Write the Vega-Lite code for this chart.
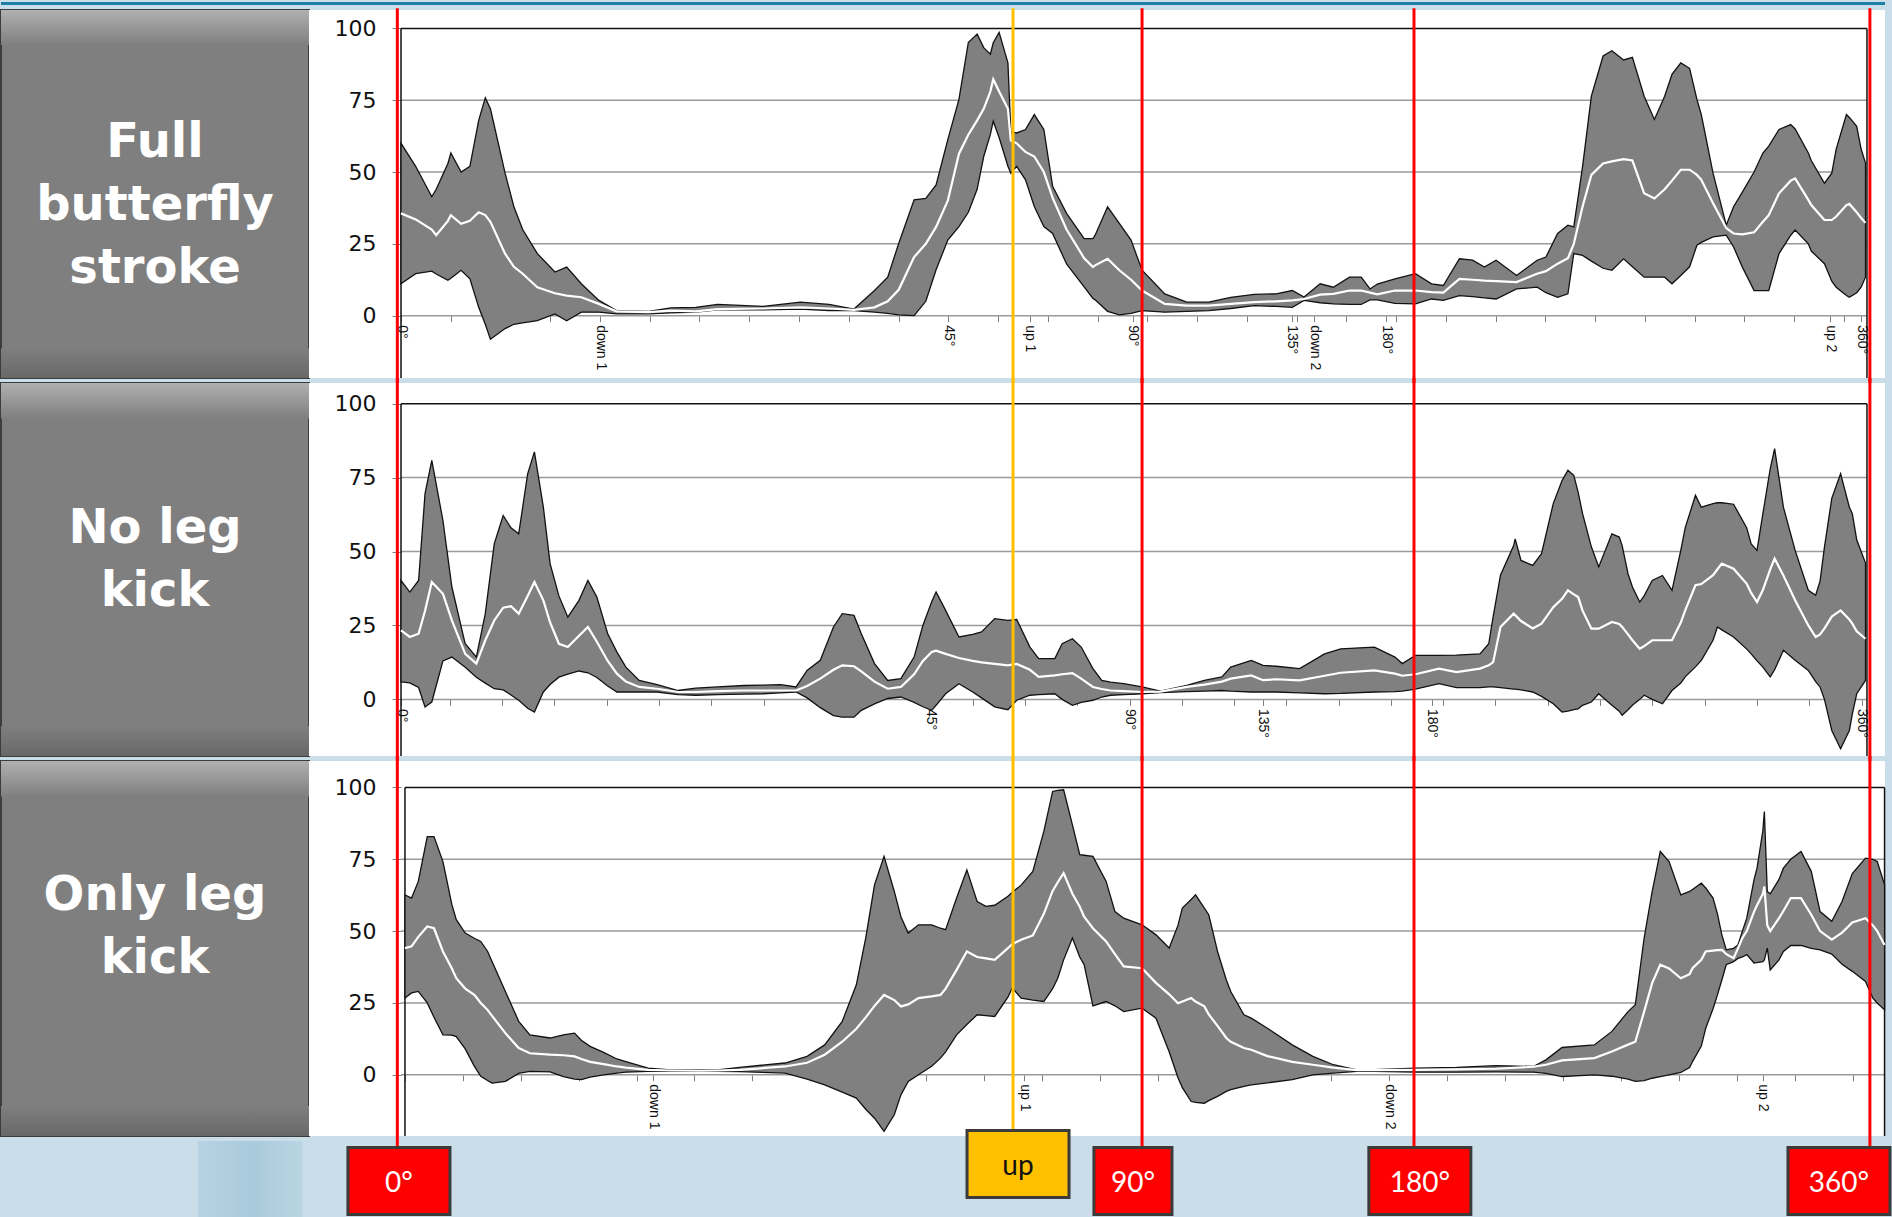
{
  "$schema": "https://vega.github.io/schema/vega-lite/v6.json",
  "padding": 0,
  "background": "#c9dee9",
  "columns": 2,
  "spacing": {"row": 5, "column": 0},
  "align": "each",
  "bounds": "flush",
  "config": {
    "view": {"stroke": null},
    "axis": {"grid": false, "domain": false, "tickColor": "#808080", "labelColor": "#111111"}
  },
  "datasets": {
    "markers": [
      {"pos": -0.25, "kind": "angle", "level": 0}, {"pos": 41.75, "kind": "up", "level": 1}, {"pos": 50.55, "kind": "angle", "level": 0},
      {"pos": 69.1, "kind": "angle", "level": 0}, {"pos": 100.2, "kind": "angle", "level": 0}
    ],
    "boxes": [
      {"label": "0°", "pos": -0.14, "kind": "angle", "level": 0},
      {"label": "up", "pos": 42.09, "kind": "up", "level": 1},
      {"label": "90°", "pos": 49.93, "kind": "angle", "level": 0},
      {"label": "180°", "pos": 69.5, "kind": "angle", "level": 0},
      {"label": "360°", "pos": 98.09, "kind": "angle", "level": 0}
    ],
    "p1": [
      {"x":0,"lo":11.1,"m":35.6,"hi":60},{"x":1.0,"lo":14.6,"m":33.5,"hi":52},{"x":2.1,"lo":15.5,"m":30,"hi":41.4},
      {"x":2.4,"lo":14.5,"m":28,"hi":44},{"x":3.2,"lo":12.3,"m":33,"hi":53},{"x":3.4,"lo":13,"m":35,"hi":56.6},
      {"x":4.1,"lo":15.8,"m":32,"hi":50},{"x":4.7,"lo":12.8,"m":33,"hi":52},{"x":5.3,"lo":2.9,"m":36,"hi":68},
      {"x":5.75,"lo":-3,"m":35,"hi":75.8},{"x":6.1,"lo":-8.2,"m":32.7,"hi":72},{"x":7.1,"lo":-4.5,"m":21.6,"hi":49.6},
      {"x":7.7,"lo":-3,"m":17,"hi":37.9},{"x":8.3,"lo":-2.5,"m":14.6,"hi":30},{"x":9.3,"lo":-1.75,"m":9.9,"hi":21.6},
      {"x":10.5,"lo":0.6,"m":7.8,"hi":15.2},{"x":11.3,"lo":-1.75,"m":7,"hi":16.9},{"x":12.3,"lo":1.2,"m":6.4,"hi":11.1},
      {"x":13.5,"lo":1.2,"m":4.1,"hi":5.3},{"x":14.7,"lo":0.6,"m":1.5,"hi":1.75},{"x":16.9,"lo":0.6,"m":1.2,"hi":1.5},
      {"x":18.4,"lo":1,"m":1.75,"hi":2.7},{"x":20.1,"lo":1.2,"m":1.5,"hi":2.9},{"x":21.6,"lo":2,"m":2.3,"hi":3.9},
      {"x":24.7,"lo":2,"m":2.5,"hi":3.2},{"x":27.25,"lo":2.3,"m":2.9,"hi":4.7},{"x":29.2,"lo":1.75,"m":2.5,"hi":3.9},
      {"x":30.9,"lo":1.75,"m":2,"hi":2.3},{"x":32.3,"lo":1.2,"m":2.9,"hi":8.75},{"x":33.2,"lo":0.8,"m":5,"hi":13.4},
      {"x":33.95,"lo":0.3,"m":9,"hi":25.1},{"x":35.0,"lo":0,"m":20.4,"hi":40.3},{"x":35.8,"lo":5,"m":25,"hi":40.8},
      {"x":36.5,"lo":16,"m":30.9,"hi":45.5},{"x":37.3,"lo":26.3,"m":40,"hi":61.3},{"x":38.06,"lo":31,"m":56.4,"hi":75.3},
      {"x":38.7,"lo":36,"m":63,"hi":95.1},{"x":39.3,"lo":44,"m":68,"hi":98},{"x":39.75,"lo":55.4,"m":72,"hi":93.3},
      {"x":40.2,"lo":63,"m":78,"hi":91},{"x":40.4,"lo":67.7,"m":82.3,"hi":95},{"x":40.8,"lo":62,"m":78,"hi":98.6},
      {"x":41.4,"lo":52,"m":72,"hi":88},{"x":41.6,"lo":49.6,"m":61,"hi":64},{"x":42.0,"lo":52,"m":60,"hi":63.6},
      {"x":42.6,"lo":47.3,"m":57,"hi":64.8},{"x":43.2,"lo":38,"m":55.4,"hi":70},{"x":43.85,"lo":31,"m":50,"hi":64.8},
      {"x":44.45,"lo":28.6,"m":41,"hi":45},{"x":45.4,"lo":18,"m":30,"hi":35.6},{"x":46.6,"lo":10,"m":20,"hi":26.8},
      {"x":47.2,"lo":6,"m":16.9,"hi":26.8},{"x":47.35,"lo":5.5,"m":17.5,"hi":28},{"x":48.2,"lo":1.5,"m":19.8,"hi":37.9},
      {"x":49.0,"lo":0.3,"m":15.8,"hi":32.1},{"x":49.8,"lo":0.8,"m":12.5,"hi":26.3},{"x":50.55,"lo":1.75,"m":8.75,"hi":15.8},
      {"x":52.1,"lo":1.2,"m":4.1,"hi":7.6},{"x":53.6,"lo":1.5,"m":3.5,"hi":4.7},{"x":55.1,"lo":1.75,"m":3.5,"hi":4.7},
      {"x":56.6,"lo":2.5,"m":4.1,"hi":6.4},{"x":58.2,"lo":3.5,"m":4.7,"hi":7.4},{"x":59.7,"lo":3.2,"m":5,"hi":7.6},
      {"x":60.8,"lo":2.9,"m":5.3,"hi":8.75},{"x":61.6,"lo":5.3,"m":5.8,"hi":6.5},{"x":62.7,"lo":4.5,"m":7.3,"hi":11.1},
      {"x":63.6,"lo":4.1,"m":7.6,"hi":9.9},{"x":64.7,"lo":3.9,"m":8.75,"hi":13.4},{"x":65.5,"lo":3.9,"m":8.75,"hi":13.4},
      {"x":66.1,"lo":5.5,"m":8,"hi":9.3},{"x":66.6,"lo":5.5,"m":7.4,"hi":11},{"x":67.8,"lo":4.3,"m":8.75,"hi":12.8},
      {"x":69.2,"lo":4.1,"m":8.75,"hi":14.6},{"x":70.3,"lo":5.8,"m":8.2,"hi":11.1},{"x":71.1,"lo":5.3,"m":8,"hi":10.5},
      {"x":72.2,"lo":7,"m":12.8,"hi":19.8},{"x":73.1,"lo":6.6,"m":12.5,"hi":19.3},{"x":73.9,"lo":6.2,"m":12.2,"hi":16.9},
      {"x":74.7,"lo":5.8,"m":12,"hi":19.3},{"x":76.1,"lo":9.3,"m":11.7,"hi":14},{"x":77.5,"lo":9.9,"m":14.6,"hi":19.3},
      {"x":78.1,"lo":8,"m":15.5,"hi":20.4},{"x":78.9,"lo":6.4,"m":18.1,"hi":28.6},{"x":79.6,"lo":7.6,"m":20,"hi":31.5},
      {"x":80.0,"lo":21.6,"m":25,"hi":30.9},{"x":80.6,"lo":21,"m":38,"hi":51.9},{"x":81.2,"lo":19,"m":49,"hi":76.4},
      {"x":82.0,"lo":16.5,"m":53,"hi":90.4},{"x":82.6,"lo":15.8,"m":53.7,"hi":92.2},{"x":83.4,"lo":19.8,"m":54.5,"hi":89},
      {"x":84.0,"lo":17,"m":54,"hi":89.9},{"x":84.8,"lo":13.4,"m":42.6,"hi":76.4},{"x":85.5,"lo":13.4,"m":40.8,"hi":68.3},
      {"x":86.2,"lo":13.4,"m":44,"hi":76.4},{"x":86.7,"lo":11.1,"m":47,"hi":84},{"x":87.3,"lo":14,"m":50.8,"hi":88},
      {"x":87.9,"lo":17,"m":50.8,"hi":86.1},{"x":88.4,"lo":24.5,"m":49,"hi":75.3},{"x":88.7,"lo":25.5,"m":47.3,"hi":70},
      {"x":89.5,"lo":27.4,"m":39.1,"hi":49.6},{"x":90.4,"lo":28,"m":30.5,"hi":31.5},{"x":90.9,"lo":23.9,"m":28.6,"hi":37.9},
      {"x":91.5,"lo":16.9,"m":28.3,"hi":43},{"x":92.3,"lo":8.75,"m":29,"hi":50},{"x":92.9,"lo":8.75,"m":32.7,"hi":56.6},
      {"x":93.3,"lo":8.75,"m":35,"hi":59},{"x":94.0,"lo":21.6,"m":42.6,"hi":64.8},{"x":94.8,"lo":28,"m":47,"hi":66.5},
      {"x":95.1,"lo":29.8,"m":47.8,"hi":65},{"x":96.0,"lo":25,"m":40.3,"hi":56.6},{"x":96.2,"lo":22.5,"m":38.5,"hi":54},
      {"x":97.1,"lo":18.1,"m":33.3,"hi":46.1},{"x":97.6,"lo":12,"m":33.3,"hi":49.6},{"x":97.9,"lo":9.9,"m":34.5,"hi":58},
      {"x":98.6,"lo":7,"m":38.5,"hi":70},{"x":98.8,"lo":6.4,"m":38.9,"hi":69},{"x":99.3,"lo":8,"m":36,"hi":65.9},
      {"x":99.6,"lo":9.9,"m":34,"hi":58},{"x":99.9,"lo":13.4,"m":32.3,"hi":53.1}
    ],
    "p2": [
      {"x":0,"lo":5.9,"m":23.3,"hi":40.2},{"x":0.6,"lo":5.6,"m":21.1,"hi":36.3},{"x":1.2,"lo":4,"m":22.2,"hi":40.2},
      {"x":1.64,"lo":-2.6,"m":30,"hi":69.6},{"x":2.1,"lo":-0.9,"m":39.7,"hi":80.8},{"x":2.86,"lo":13,"m":35.7,"hi":60.5},
      {"x":3.47,"lo":14.3,"m":26.7,"hi":38},{"x":4.38,"lo":10.9,"m":15.4,"hi":18.8},{"x":5.14,"lo":7.5,"m":12.1,"hi":14.3},
      {"x":5.75,"lo":5.5,"m":20,"hi":29},{"x":6.36,"lo":3.6,"m":26.7,"hi":52.6},{"x":6.97,"lo":3.2,"m":31,"hi":62.2},
      {"x":7.5,"lo":1.5,"m":31.5,"hi":58},{"x":8.03,"lo":-0.3,"m":29,"hi":56},{"x":8.64,"lo":-3,"m":35,"hi":76.3},
      {"x":9.1,"lo":-4.3,"m":39.7,"hi":83.7},{"x":9.71,"lo":2.5,"m":33.5,"hi":65},{"x":10.17,"lo":5,"m":26,"hi":45.9},
      {"x":10.77,"lo":7.5,"m":18.8,"hi":35},{"x":11.38,"lo":8.5,"m":17.7,"hi":27.8},{"x":12.14,"lo":9.6,"m":21.5,"hi":33.5},
      {"x":12.75,"lo":9,"m":24.5,"hi":40.2},{"x":13.36,"lo":7.4,"m":19.5,"hi":34.6},{"x":14.1,"lo":4.5,"m":13,"hi":22.2},
      {"x":14.73,"lo":2.5,"m":8.7,"hi":16},{"x":15.34,"lo":2.5,"m":6,"hi":10.9},{"x":16.25,"lo":2.5,"m":4.2,"hi":6.4},
      {"x":17.47,"lo":2.5,"m":3.6,"hi":5},{"x":18.9,"lo":1.6,"m":2.5,"hi":3},{"x":20.1,"lo":1.4,"m":2.5,"hi":3.8},
      {"x":21.6,"lo":1.6,"m":2.8,"hi":4.2},{"x":23.4,"lo":1.8,"m":3,"hi":4.7},{"x":24.7,"lo":1.9,"m":3,"hi":4.8},
      {"x":25.9,"lo":2.2,"m":3,"hi":5},{"x":26.95,"lo":2.5,"m":3,"hi":4.2},{"x":27.7,"lo":0.5,"m":4.5,"hi":9.8},
      {"x":28.6,"lo":-2.8,"m":7,"hi":13.2},{"x":29.5,"lo":-5.5,"m":10,"hi":24.5},{"x":30.1,"lo":-6,"m":11.5,"hi":29},
      {"x":30.9,"lo":-6,"m":11.2,"hi":28.4},{"x":31.4,"lo":-3.7,"m":9.5,"hi":22.2},{"x":32.3,"lo":-1.5,"m":6,"hi":12.1},
      {"x":33.2,"lo":0.3,"m":3.6,"hi":6.4},{"x":34.1,"lo":0.8,"m":4.2,"hi":7},{"x":35.0,"lo":-1,"m":8.5,"hi":14.3},
      {"x":35.6,"lo":-2.5,"m":13,"hi":25},{"x":36.2,"lo":-3.7,"m":16,"hi":33},{"x":36.5,"lo":-2,"m":16.5,"hi":36.3},
      {"x":37.15,"lo":1.9,"m":15.4,"hi":30.1},{"x":38.06,"lo":5.3,"m":14,"hi":21.1},{"x":39.0,"lo":2.5,"m":13,"hi":22},
      {"x":39.6,"lo":0.5,"m":12.5,"hi":22.8},{"x":40.5,"lo":-2.5,"m":12,"hi":27.3},{"x":41.4,"lo":-3.5,"m":11.5,"hi":26.7},
      {"x":42.0,"lo":-0.3,"m":12,"hi":27},{"x":42.9,"lo":1.4,"m":10,"hi":17.7},{"x":43.5,"lo":1.6,"m":7.6,"hi":13.8},
      {"x":44.6,"lo":1.9,"m":8.1,"hi":13.8},{"x":45.1,"lo":0,"m":8.5,"hi":18.8},{"x":45.8,"lo":-2,"m":8.9,"hi":20.5},
      {"x":46.4,"lo":-1,"m":7,"hi":17.7},{"x":47.2,"lo":-0.3,"m":4.2,"hi":10.4},{"x":47.8,"lo":0.8,"m":3.5,"hi":6.4},
      {"x":48.4,"lo":1.4,"m":3,"hi":5.8},{"x":49.3,"lo":1.6,"m":2.8,"hi":5.3},{"x":50.55,"lo":1.9,"m":2.5,"hi":4.2},
      {"x":51.8,"lo":2.3,"m":2.6,"hi":2.8},{"x":53.6,"lo":2.6,"m":4.2,"hi":4.7},{"x":54.8,"lo":2.8,"m":5,"hi":6.4},
      {"x":56.0,"lo":3,"m":6,"hi":7.6},{"x":56.6,"lo":2.8,"m":7,"hi":10.9},{"x":58.0,"lo":2.5,"m":8.1,"hi":13.2},
      {"x":58.8,"lo":2.5,"m":6.5,"hi":11.5},{"x":59.7,"lo":2.5,"m":6.8,"hi":11.2},{"x":61.3,"lo":2.2,"m":6.4,"hi":10.4},
      {"x":63.0,"lo":1.9,"m":8,"hi":15.4},{"x":64.1,"lo":2,"m":9,"hi":17.1},{"x":66.4,"lo":2.5,"m":9.8,"hi":17.7},
      {"x":67.8,"lo":2.6,"m":8.7,"hi":14.3},{"x":68.3,"lo":2.8,"m":8,"hi":12.1},{"x":69.2,"lo":3.5,"m":8.5,"hi":14.9},
      {"x":70.8,"lo":5.3,"m":10.4,"hi":14.9},{"x":72.0,"lo":4,"m":9.2,"hi":15},{"x":73.6,"lo":4,"m":10.4,"hi":15.4},
      {"x":74.2,"lo":4.2,"m":11.5,"hi":18.8},{"x":74.5,"lo":4.2,"m":12.6,"hi":28},{"x":75.0,"lo":4,"m":24.5,"hi":42},
      {"x":75.9,"lo":3.5,"m":29,"hi":52},{"x":76.0,"lo":3.5,"m":28.5,"hi":54.3},{"x":76.4,"lo":3.2,"m":26.5,"hi":47},
      {"x":77.2,"lo":2.5,"m":24,"hi":45.3},{"x":77.8,"lo":1,"m":25.6,"hi":49.3},{"x":78.6,"lo":-1.5,"m":31.2,"hi":66.2},
      {"x":79.2,"lo":-4.3,"m":34,"hi":74},{"x":79.6,"lo":-4,"m":36.9,"hi":77.5},{"x":80.0,"lo":-3.5,"m":35.5,"hi":75.8},
      {"x":80.3,"lo":-3.2,"m":34.6,"hi":70},{"x":80.6,"lo":-2,"m":30,"hi":62.8},{"x":81.2,"lo":-0.9,"m":23.9,"hi":51.6},
      {"x":81.7,"lo":1.9,"m":23.9,"hi":44.8},{"x":82.6,"lo":-2,"m":26.2,"hi":56},{"x":83.1,"lo":-4,"m":25.5,"hi":54.9},
      {"x":83.3,"lo":-5.4,"m":24.5,"hi":52},{"x":83.7,"lo":-3.5,"m":22,"hi":42.5},{"x":84.0,"lo":-2,"m":20,"hi":38},
      {"x":84.5,"lo":0,"m":17.1,"hi":32.9},{"x":84.8,"lo":1.4,"m":18,"hi":35},{"x":85.35,"lo":0,"m":20,"hi":40.2},
      {"x":86.05,"lo":-1.5,"m":20,"hi":41.9},{"x":86.7,"lo":3,"m":20,"hi":36.9},{"x":87.3,"lo":5.5,"m":26,"hi":50.4},
      {"x":87.6,"lo":7.6,"m":30.1,"hi":58},{"x":88.3,"lo":11,"m":38.6,"hi":69},{"x":88.7,"lo":13.2,"m":39,"hi":65},
      {"x":89.5,"lo":20,"m":42,"hi":66.2},{"x":89.8,"lo":24.5,"m":44,"hi":66.5},{"x":90.1,"lo":23.5,"m":45.9,"hi":66.5},
      {"x":90.9,"lo":21.1,"m":44.2,"hi":66},{"x":91.8,"lo":17,"m":39.1,"hi":58},{"x":92.1,"lo":15.4,"m":36,"hi":52.6},
      {"x":92.5,"lo":13,"m":32.9,"hi":50.4},{"x":92.9,"lo":10.9,"m":37,"hi":62.8},{"x":93.4,"lo":7.6,"m":44,"hi":78},
      {"x":93.7,"lo":10,"m":47.6,"hi":84.8},{"x":94.3,"lo":16.6,"m":41.9,"hi":65},{"x":95.1,"lo":13.2,"m":33.5,"hi":50.4},
      {"x":96.0,"lo":9.8,"m":25,"hi":36.9},{"x":96.5,"lo":6,"m":21.1,"hi":35.2},{"x":96.8,"lo":4.2,"m":22,"hi":40},
      {"x":97.1,"lo":0,"m":24,"hi":51.5},{"x":97.6,"lo":-10.5,"m":28,"hi":68},{"x":98.2,"lo":-16.7,"m":30.1,"hi":76.3},
      {"x":98.8,"lo":-10.5,"m":27,"hi":65},{"x":99.0,"lo":-5,"m":25.6,"hi":62.8},{"x":99.3,"lo":1.9,"m":23,"hi":54},
      {"x":99.9,"lo":6.4,"m":20.5,"hi":46.1}
    ],
    "p3": [
      {"x":0.27,"lo":26.7,"m":44.1,"hi":62.6},{"x":0.72,"lo":28.5,"m":44.7,"hi":61.5},{"x":1.18,"lo":29,"m":48,"hi":67.3},
      {"x":1.79,"lo":25,"m":51.6,"hi":82.9},{"x":2.25,"lo":20,"m":51,"hi":82.9},{"x":2.86,"lo":13.9,"m":42.9,"hi":74.2},
      {"x":3.47,"lo":13.8,"m":37,"hi":59.2},{"x":3.77,"lo":13.3,"m":33.6,"hi":54},{"x":4.38,"lo":9,"m":30,"hi":49.3},
      {"x":5.0,"lo":3,"m":27.8,"hi":47.5},{"x":5.44,"lo":-0.5,"m":25,"hi":46.4},{"x":5.9,"lo":-2,"m":22.6,"hi":43},
      {"x":6.21,"lo":-2.9,"m":20.5,"hi":39.4},{"x":7.12,"lo":-2.3,"m":14.5,"hi":29},{"x":8.03,"lo":0.5,"m":9.3,"hi":18.6},
      {"x":8.79,"lo":1.2,"m":7.5,"hi":13.9},{"x":10.17,"lo":1,"m":7,"hi":12.8},{"x":11.08,"lo":-0.6,"m":6.8,"hi":13.9},
      {"x":11.84,"lo":-1.5,"m":6.4,"hi":14.5},{"x":12.3,"lo":-1.7,"m":5.5,"hi":12},{"x":12.9,"lo":-0.8,"m":4.5,"hi":9.9},
      {"x":13.82,"lo":0,"m":3.7,"hi":7.8},{"x":14.73,"lo":0.6,"m":2.9,"hi":5.5},{"x":15.34,"lo":0.9,"m":2.5,"hi":4.6},
      {"x":16.86,"lo":1.2,"m":1.7,"hi":2.3},{"x":18.4,"lo":1.2,"m":1.5,"hi":1.7},{"x":20.46,"lo":1.2,"m":1.4,"hi":1.7},
      {"x":21.6,"lo":1.2,"m":1.5,"hi":1.7},{"x":23.1,"lo":1.1,"m":1.7,"hi":2.6},{"x":26.2,"lo":0.6,"m":2.9,"hi":4.1},
      {"x":27.7,"lo":-1.5,"m":4.2,"hi":6.4},{"x":28.9,"lo":-3.5,"m":7,"hi":10.4},{"x":30.1,"lo":-6,"m":11.5,"hi":18.6},
      {"x":31.06,"lo":-8.1,"m":16,"hi":31.3},{"x":31.7,"lo":-12,"m":20,"hi":47.6},{"x":32.3,"lo":-15.1,"m":24,"hi":66.1},
      {"x":32.95,"lo":-19.7,"m":27.8,"hi":76},{"x":33.65,"lo":-13.9,"m":26,"hi":63.8},{"x":34.1,"lo":-7,"m":23.8,"hi":55},
      {"x":34.6,"lo":-2.3,"m":24.5,"hi":49.3},{"x":35.3,"lo":0,"m":26.7,"hi":52.2},{"x":36.2,"lo":3,"m":27.3,"hi":52.2},
      {"x":36.8,"lo":5.8,"m":27.8,"hi":51},{"x":37.15,"lo":8,"m":30,"hi":50.5},{"x":37.9,"lo":13.9,"m":36.5,"hi":61.5},
      {"x":38.6,"lo":17.5,"m":42.9,"hi":71.3},{"x":39.3,"lo":20.9,"m":41,"hi":60.3},{"x":39.9,"lo":20.6,"m":40.5,"hi":58.6},
      {"x":40.5,"lo":20.3,"m":40,"hi":59},{"x":41.4,"lo":27,"m":44.1,"hi":62.1},{"x":41.7,"lo":30.2,"m":45.5,"hi":63.5},
      {"x":42.3,"lo":26.7,"m":47,"hi":66},{"x":43.1,"lo":26,"m":48.5,"hi":70.8},{"x":43.85,"lo":25.5,"m":56,"hi":84.7},
      {"x":44.45,"lo":30,"m":64,"hi":98.6},{"x":44.8,"lo":33.6,"m":67,"hi":99},{"x":45.2,"lo":40,"m":70.2,"hi":99.2},
      {"x":45.8,"lo":47.6,"m":63,"hi":87},{"x":46.3,"lo":41,"m":58.5,"hi":76.6},{"x":46.6,"lo":38.3,"m":55,"hi":76.4},
      {"x":47.2,"lo":24,"m":51,"hi":76},{"x":48.1,"lo":25.5,"m":46.4,"hi":67.3},{"x":48.7,"lo":24,"m":42,"hi":56.8},
      {"x":49.3,"lo":22,"m":37.7,"hi":54.5},{"x":50.55,"lo":23.2,"m":37.1,"hi":52.2},{"x":51.5,"lo":19.7,"m":32,"hi":48.7},
      {"x":52.4,"lo":8,"m":28,"hi":44.1},{"x":53.0,"lo":-1,"m":24.9,"hi":52},{"x":53.3,"lo":-4.5,"m":25.5,"hi":58},
      {"x":53.9,"lo":-9.3,"m":26.7,"hi":61},{"x":54.2,"lo":-9.6,"m":25.5,"hi":62.6},{"x":54.8,"lo":-9.9,"m":23.8,"hi":58},
      {"x":55.1,"lo":-9,"m":21,"hi":55.7},{"x":55.7,"lo":-7.5,"m":17,"hi":42.9},{"x":56.3,"lo":-5.8,"m":12.8,"hi":33},
      {"x":56.6,"lo":-5.2,"m":11.5,"hi":29},{"x":57.5,"lo":-4,"m":9.3,"hi":20.9},{"x":58.0,"lo":-3.5,"m":8.7,"hi":19.7},
      {"x":59.1,"lo":-2.8,"m":6.5,"hi":16.2},{"x":60.8,"lo":-1.7,"m":4.5,"hi":10.4},{"x":62.2,"lo":0,"m":3.5,"hi":6.4},
      {"x":63.6,"lo":0.6,"m":2.5,"hi":3.5},{"x":65.2,"lo":1.2,"m":1.6,"hi":1.7},{"x":66.4,"lo":1.2,"m":1.6,"hi":1.8},
      {"x":69.2,"lo":0.9,"m":1.7,"hi":2.3},{"x":72.0,"lo":0.9,"m":1.9,"hi":2.6},{"x":74.7,"lo":1,"m":2.1,"hi":3.2},
      {"x":77.25,"lo":0.9,"m":2.8,"hi":2.9},{"x":78.1,"lo":0.5,"m":3.5,"hi":5.2},{"x":79.2,"lo":-0.6,"m":5,"hi":9.5},
      {"x":81.4,"lo":0,"m":5.8,"hi":10.4},{"x":82.6,"lo":-0.5,"m":8.1,"hi":15.1},{"x":83.7,"lo":-1.5,"m":10.5,"hi":22},
      {"x":84.2,"lo":-2.3,"m":11.5,"hi":24.4},{"x":84.8,"lo":-2,"m":22,"hi":47.6},{"x":85.35,"lo":-1.2,"m":32,"hi":63.8},
      {"x":85.9,"lo":-0.6,"m":38.3,"hi":77.7},{"x":86.5,"lo":0,"m":37,"hi":74.2},{"x":87.3,"lo":0.8,"m":33.6,"hi":62.6},
      {"x":87.9,"lo":2.5,"m":35,"hi":63.8},{"x":88.1,"lo":4.6,"m":37.1,"hi":64.5},{"x":88.7,"lo":10,"m":40,"hi":66.7},
      {"x":89.0,"lo":16.2,"m":42.9,"hi":65},{"x":89.5,"lo":23,"m":43.2,"hi":61.5},{"x":89.8,"lo":27.8,"m":43.4,"hi":56},
      {"x":90.1,"lo":33,"m":43.5,"hi":48.7},{"x":90.4,"lo":38.3,"m":42,"hi":43.5},{"x":90.9,"lo":39.4,"m":40.6,"hi":44},
      {"x":91.2,"lo":40.5,"m":44,"hi":45.2},{"x":91.5,"lo":41,"m":47.6,"hi":50},{"x":91.8,"lo":41.8,"m":50,"hi":54.5},
      {"x":92.3,"lo":38.9,"m":56.8,"hi":68},{"x":92.5,"lo":39,"m":59,"hi":71.9},{"x":92.9,"lo":39.4,"m":63,"hi":85},
      {"x":93.0,"lo":40,"m":65.5,"hi":91.6},{"x":93.2,"lo":44.1,"m":52,"hi":63.8},{"x":93.4,"lo":36.5,"m":50,"hi":63},
      {"x":94.0,"lo":40,"m":54.5,"hi":68},{"x":94.3,"lo":42.9,"m":57,"hi":71.9},{"x":94.8,"lo":45,"m":61.5,"hi":75},
      {"x":95.5,"lo":45,"m":61.5,"hi":77.7},{"x":96.2,"lo":44,"m":55.7,"hi":70.8},{"x":96.8,"lo":43.5,"m":50,"hi":56.8},
      {"x":97.6,"lo":42,"m":47,"hi":53.4},{"x":98.3,"lo":38.5,"m":49.5,"hi":60.3},{"x":99.0,"lo":36,"m":53,"hi":70},
      {"x":99.9,"lo":32.5,"m":54.5,"hi":75.4},{"x":100.4,"lo":26.7,"m":52,"hi":75},{"x":100.7,"lo":25,"m":50,"hi":74.2},
      {"x":101.2,"lo":22.6,"m":45.2,"hi":66.1}
    ]
  },
  "concat": [
    {
      "width": 308, "height": 3,
      "view": {"fill": "#1d7fa3", "stroke": null},
      "data": {"values": [{}]},
      "mark": {"type": "point", "opacity": 0},
      "encoding": {}
    },
    {
      "width": 1576, "height": 3,
      "view": {"fill": "#1d7fa3", "stroke": null},
      "data": {"values": [{}]},
      "mark": {"type": "point", "opacity": 0},
      "encoding": {}
    },
    {
      "width": 308, "height": 368,
      "view": {"fill": "#7f7f7f", "stroke": "#3c3c3c", "strokeWidth": 2},
      "layer": [
        {
          "data": {"values": [{"a": 0, "b": 1, "c": 1, "d": 0.905}]},
          "mark": {"type": "rect", "fill": {"gradient": "linear", "x1": 0, "y1": 0, "x2": 0, "y2": 1, "stops": [{"offset": 0, "color": "#b0b0b0"}, {"offset": 1, "color": "#7f7f7f"}]}},
          "encoding": {
            "x": {"field": "a", "type": "quantitative", "scale": {"domain": [0, 1], "nice": false}, "axis": null},
            "x2": {"field": "b"},
            "y": {"field": "c", "type": "quantitative", "scale": {"domain": [0, 1], "nice": false}, "axis": null},
            "y2": {"field": "d"}
          }
        },
        {
          "data": {"values": [{"a": 0, "b": 1, "c": 0.08, "d": 0}]},
          "mark": {"type": "rect", "fill": {"gradient": "linear", "x1": 0, "y1": 0, "x2": 0, "y2": 1, "stops": [{"offset": 0, "color": "#7f7f7f"}, {"offset": 1, "color": "#686868"}]}},
          "encoding": {
            "x": {"field": "a", "type": "quantitative", "scale": {"domain": [0, 1], "nice": false}, "axis": null},
            "x2": {"field": "b"},
            "y": {"field": "c", "type": "quantitative", "scale": {"domain": [0, 1], "nice": false}, "axis": null},
            "y2": {"field": "d"}
          }
        },
        {
          "data": {"values": [{"label": "Full\nbutterfly\nstroke"}]},
          "mark": {"type": "text", "lineBreak": "\n", "font": "DejaVu Sans", "fontWeight": "bold", "fontSize": 48, "lineHeight": 63, "color": "#ffffff", "dy": -51, "align": "center", "baseline": "middle"},
          "encoding": {"text": {"field": "label"}}
        }
      ]
    },
    {
      "width": 1576, "height": 368,
      "view": {"fill": "#ffffff", "stroke": null},
      "layer": [
        {
          "data": {"values": [{"g": 0}, {"g": 25}, {"g": 50}, {"g": 75}]},
          "mark": {"type": "rule", "color": "#9a9a9a", "strokeWidth": 1.5},
          "encoding": {
            "y": {"field": "g", "type": "quantitative", "scale": {"domain": [-21.7, 106.4], "nice": false, "zero": false}, "title": null},
            "x": {"datum": 0, "type": "quantitative", "scale": {"domain": [-6.276, 101.23], "nice": false, "zero": false}, "title": null},
            "x2": {"datum": 100}
          }
        },
        {
          "data": {"values": [{"b": 100}]},
          "mark": {"type": "rule", "color": "#111111", "strokeWidth": 1.5},
          "encoding": {
            "y": {"field": "b", "type": "quantitative", "scale": {"domain": [-21.7, 106.4], "nice": false, "zero": false}, "title": null},
            "x": {"datum": 0, "type": "quantitative", "scale": {"domain": [-6.276, 101.23], "nice": false, "zero": false}, "title": null},
            "x2": {"datum": 100}
          }
        },
        {
          "data": {"values": [{"v": 0}, {"v": 100}]},
          "mark": {"type": "rule", "color": "#111111", "strokeWidth": 1.5},
          "encoding": {
            "x": {"field": "v", "type": "quantitative", "scale": {"domain": [-6.276, 101.23], "nice": false, "zero": false}, "title": null},
            "y": {"datum": 100, "type": "quantitative", "scale": {"domain": [-21.7, 106.4], "nice": false, "zero": false}, "title": null},
            "y2": {"datum": -21.7}
          }
        },
        {
          "data": {"name": "p1"},
          "mark": {"type": "area", "fill": "#808080", "stroke": "#111111", "strokeWidth": 1.3, "opacity": 1},
          "encoding": {
            "x": {"field": "x", "type": "quantitative", "scale": {"domain": [-6.276, 101.23], "nice": false, "zero": false}, "title": null,
              "axis": {"values": [0, 3.39, 6.79, 10.18, 13.58, 16.97, 20.36, 23.76, 27.15, 30.55, 33.94, 37.33, 40.73, 42.9, 44.12, 47.52, 49.9, 50.91, 54.3, 57.7, 60.75, 61.09, 62.3, 64.49, 67.2, 67.88, 71.27, 74.67, 78.06, 81.46, 84.85, 88.24, 91.64, 95.03, 97.5, 98.43, 99.6],
                "labelExpr": "datum.value == 0 ? '0°' : datum.value == 13.58 ? 'down 1' : datum.value == 37.33 ? '45°' : datum.value == 42.9 ? 'up 1' : datum.value == 49.9 ? '90°' : datum.value == 60.75 ? '135°' : datum.value == 62.3 ? 'down 2' : datum.value == 67.2 ? '180°' : datum.value == 97.5 ? 'up 2' : datum.value == 99.6 ? '360°' : ''",
                "labelAngle": 90, "offset": -62.34, "tickSize": 6, "labelFont": "Liberation Sans", "labelFontSize": 14, "labelPadding": 3, "labelOverlap": false, "labelFlush": false}},
            "y": {"field": "lo", "type": "quantitative", "scale": {"domain": [-21.7, 106.4], "nice": false, "zero": false}, "title": null,
              "axis": {"values": [0, 25, 50, 75, 100], "offset": -92, "tickSize": 9, "labelFont": "DejaVu Sans", "labelFontSize": 22, "labelPadding": 16}},
            "y2": {"field": "hi"}
          }
        },
        {
          "data": {"name": "p1"},
          "mark": {"type": "line", "color": "#ffffff", "strokeWidth": 2.2},
          "encoding": {
            "x": {"field": "x", "type": "quantitative", "scale": {"domain": [-6.276, 101.23], "nice": false, "zero": false}, "title": null},
            "y": {"field": "m", "type": "quantitative", "scale": {"domain": [-21.7, 106.4], "nice": false, "zero": false}, "title": null}
          }
        },
        {
          "data": {"name": "markers"},
          "mark": {"type": "rule", "strokeWidth": 3},
          "encoding": {
            "x": {"field": "pos", "type": "quantitative", "scale": {"domain": [-6.276, 101.23], "nice": false, "zero": false}, "title": null},
            "y": {"datum": 107, "type": "quantitative", "scale": {"domain": [-21.7, 106.4], "nice": false, "zero": false}, "title": null},
            "y2": {"datum": -23.5},
            "color": {"field": "kind", "type": "nominal", "scale": {"domain": ["angle", "up"], "range": ["#ff0000", "#ffc000"]}, "legend": null}
          }
        }
      ]
    },
    {
      "width": 308, "height": 373,
      "view": {"fill": "#7f7f7f", "stroke": "#3c3c3c", "strokeWidth": 2},
      "layer": [
        {
          "data": {"values": [{"a": 0, "b": 1, "c": 1, "d": 0.905}]},
          "mark": {"type": "rect", "fill": {"gradient": "linear", "x1": 0, "y1": 0, "x2": 0, "y2": 1, "stops": [{"offset": 0, "color": "#b0b0b0"}, {"offset": 1, "color": "#7f7f7f"}]}},
          "encoding": {
            "x": {"field": "a", "type": "quantitative", "scale": {"domain": [0, 1], "nice": false}, "axis": null},
            "x2": {"field": "b"},
            "y": {"field": "c", "type": "quantitative", "scale": {"domain": [0, 1], "nice": false}, "axis": null},
            "y2": {"field": "d"}
          }
        },
        {
          "data": {"values": [{"a": 0, "b": 1, "c": 0.08, "d": 0}]},
          "mark": {"type": "rect", "fill": {"gradient": "linear", "x1": 0, "y1": 0, "x2": 0, "y2": 1, "stops": [{"offset": 0, "color": "#7f7f7f"}, {"offset": 1, "color": "#686868"}]}},
          "encoding": {
            "x": {"field": "a", "type": "quantitative", "scale": {"domain": [0, 1], "nice": false}, "axis": null},
            "x2": {"field": "b"},
            "y": {"field": "c", "type": "quantitative", "scale": {"domain": [0, 1], "nice": false}, "axis": null},
            "y2": {"field": "d"}
          }
        },
        {
          "data": {"values": [{"label": "No leg\nkick"}]},
          "mark": {"type": "text", "lineBreak": "\n", "font": "DejaVu Sans", "fontWeight": "bold", "fontSize": 48, "lineHeight": 63, "color": "#ffffff", "dy": -41, "align": "center", "baseline": "middle"},
          "encoding": {"text": {"field": "label"}}
        }
      ]
    },
    {
      "width": 1576, "height": 373,
      "view": {"fill": "#ffffff", "stroke": null},
      "layer": [
        {
          "data": {"values": [{"g": 0}, {"g": 25}, {"g": 50}, {"g": 75}]},
          "mark": {"type": "rule", "color": "#9a9a9a", "strokeWidth": 1.5},
          "encoding": {
            "y": {"field": "g", "type": "quantitative", "scale": {"domain": [-19.15, 107.0], "nice": false, "zero": false}, "title": null},
            "x": {"datum": 0, "type": "quantitative", "scale": {"domain": [-6.276, 101.23], "nice": false, "zero": false}, "title": null},
            "x2": {"datum": 100}
          }
        },
        {
          "data": {"values": [{"b": 100}]},
          "mark": {"type": "rule", "color": "#111111", "strokeWidth": 1.5},
          "encoding": {
            "y": {"field": "b", "type": "quantitative", "scale": {"domain": [-19.15, 107.0], "nice": false, "zero": false}, "title": null},
            "x": {"datum": 0, "type": "quantitative", "scale": {"domain": [-6.276, 101.23], "nice": false, "zero": false}, "title": null},
            "x2": {"datum": 100}
          }
        },
        {
          "data": {"values": [{"v": 0}, {"v": 100}]},
          "mark": {"type": "rule", "color": "#111111", "strokeWidth": 1.5},
          "encoding": {
            "x": {"field": "v", "type": "quantitative", "scale": {"domain": [-6.276, 101.23], "nice": false, "zero": false}, "title": null},
            "y": {"datum": 100, "type": "quantitative", "scale": {"domain": [-19.15, 107.0], "nice": false, "zero": false}, "title": null},
            "y2": {"datum": -19.15}
          }
        },
        {
          "data": {"name": "p2"},
          "mark": {"type": "area", "fill": "#808080", "stroke": "#111111", "strokeWidth": 1.3, "opacity": 1},
          "encoding": {
            "x": {"field": "x", "type": "quantitative", "scale": {"domain": [-6.276, 101.23], "nice": false, "zero": false}, "title": null,
              "axis": {"values": [0, 3.33, 6.89, 10.46, 14.03, 17.6, 21.16, 24.73, 28.3, 31.86, 35.43, 36.1, 39.0, 42.56, 46.13, 49.7, 53.26, 56.83, 58.8, 60.4, 63.96, 67.53, 70.3, 71.1, 74.66, 78.23, 81.8, 85.36, 88.93, 92.5, 96.06, 99.63],
                "labelExpr": "datum.value == 0 ? '0°' : datum.value == 36.1 ? '45°' : datum.value == 49.7 ? '90°' : datum.value == 58.8 ? '135°' : datum.value == 70.3 ? '180°' : datum.value == 99.63 ? '360°' : ''",
                "labelAngle": 90, "offset": -56.6, "tickSize": 6, "labelFont": "Liberation Sans", "labelFontSize": 14, "labelPadding": 3, "labelOverlap": false, "labelFlush": false}},
            "y": {"field": "lo", "type": "quantitative", "scale": {"domain": [-19.15, 107.0], "nice": false, "zero": false}, "title": null,
              "axis": {"values": [0, 25, 50, 75, 100], "offset": -92, "tickSize": 9, "labelFont": "DejaVu Sans", "labelFontSize": 22, "labelPadding": 16}},
            "y2": {"field": "hi"}
          }
        },
        {
          "data": {"name": "p2"},
          "mark": {"type": "line", "color": "#ffffff", "strokeWidth": 2.2},
          "encoding": {
            "x": {"field": "x", "type": "quantitative", "scale": {"domain": [-6.276, 101.23], "nice": false, "zero": false}, "title": null},
            "y": {"field": "m", "type": "quantitative", "scale": {"domain": [-19.15, 107.0], "nice": false, "zero": false}, "title": null}
          }
        },
        {
          "data": {"name": "markers"},
          "mark": {"type": "rule", "strokeWidth": 3},
          "encoding": {
            "x": {"field": "pos", "type": "quantitative", "scale": {"domain": [-6.276, 101.23], "nice": false, "zero": false}, "title": null},
            "y": {"datum": 108.7, "type": "quantitative", "scale": {"domain": [-19.15, 107.0], "nice": false, "zero": false}, "title": null},
            "y2": {"datum": -20.85},
            "color": {"field": "kind", "type": "nominal", "scale": {"domain": ["angle", "up"], "range": ["#ff0000", "#ffc000"]}, "legend": null}
          }
        }
      ]
    },
    {
      "width": 308, "height": 375,
      "view": {"fill": "#7f7f7f", "stroke": "#3c3c3c", "strokeWidth": 2},
      "layer": [
        {
          "data": {"values": [{"a": 0, "b": 1, "c": 1, "d": 0.905}]},
          "mark": {"type": "rect", "fill": {"gradient": "linear", "x1": 0, "y1": 0, "x2": 0, "y2": 1, "stops": [{"offset": 0, "color": "#b0b0b0"}, {"offset": 1, "color": "#7f7f7f"}]}},
          "encoding": {
            "x": {"field": "a", "type": "quantitative", "scale": {"domain": [0, 1], "nice": false}, "axis": null},
            "x2": {"field": "b"},
            "y": {"field": "c", "type": "quantitative", "scale": {"domain": [0, 1], "nice": false}, "axis": null},
            "y2": {"field": "d"}
          }
        },
        {
          "data": {"values": [{"a": 0, "b": 1, "c": 0.08, "d": 0}]},
          "mark": {"type": "rect", "fill": {"gradient": "linear", "x1": 0, "y1": 0, "x2": 0, "y2": 1, "stops": [{"offset": 0, "color": "#7f7f7f"}, {"offset": 1, "color": "#686868"}]}},
          "encoding": {
            "x": {"field": "a", "type": "quantitative", "scale": {"domain": [0, 1], "nice": false}, "axis": null},
            "x2": {"field": "b"},
            "y": {"field": "c", "type": "quantitative", "scale": {"domain": [0, 1], "nice": false}, "axis": null},
            "y2": {"field": "d"}
          }
        },
        {
          "data": {"values": [{"label": "Only leg\nkick"}]},
          "mark": {"type": "text", "lineBreak": "\n", "font": "DejaVu Sans", "fontWeight": "bold", "fontSize": 48, "lineHeight": 63, "color": "#ffffff", "dy": -53, "align": "center", "baseline": "middle"},
          "encoding": {"text": {"field": "label"}}
        }
      ]
    },
    {
      "width": 1576, "height": 375,
      "view": {"fill": "#ffffff", "stroke": null},
      "layer": [
        {
          "data": {"values": [{"g": 0}, {"g": 25}, {"g": 50}, {"g": 75}]},
          "mark": {"type": "rule", "color": "#9a9a9a", "strokeWidth": 1.5},
          "encoding": {
            "y": {"field": "g", "type": "quantitative", "scale": {"domain": [-21.3, 109.2], "nice": false, "zero": false}, "title": null},
            "x": {"datum": 0, "type": "quantitative", "scale": {"domain": [-6.276, 101.23], "nice": false, "zero": false}, "title": null},
            "x2": {"datum": 101.2}
          }
        },
        {
          "data": {"values": [{"b": 100}]},
          "mark": {"type": "rule", "color": "#111111", "strokeWidth": 1.5},
          "encoding": {
            "y": {"field": "b", "type": "quantitative", "scale": {"domain": [-21.3, 109.2], "nice": false, "zero": false}, "title": null},
            "x": {"datum": 0.27, "type": "quantitative", "scale": {"domain": [-6.276, 101.23], "nice": false, "zero": false}, "title": null},
            "x2": {"datum": 101.2}
          }
        },
        {
          "data": {"values": [{"v": 0.27}, {"v": 101.2}]},
          "mark": {"type": "rule", "color": "#111111", "strokeWidth": 1.5},
          "encoding": {
            "x": {"field": "v", "type": "quantitative", "scale": {"domain": [-6.276, 101.23], "nice": false, "zero": false}, "title": null},
            "y": {"datum": 100, "type": "quantitative", "scale": {"domain": [-21.3, 109.2], "nice": false, "zero": false}, "title": null},
            "y2": {"datum": -21.3}
          }
        },
        {
          "data": {"name": "p3"},
          "mark": {"type": "area", "fill": "#808080", "stroke": "#111111", "strokeWidth": 1.3, "opacity": 1},
          "encoding": {
            "x": {"field": "x", "type": "quantitative", "scale": {"domain": [-6.276, 101.23], "nice": false, "zero": false}, "title": null,
              "axis": {"values": [0.27, 4.22, 8.17, 12.12, 16.07, 17.2, 20.02, 23.97, 27.92, 31.87, 35.82, 39.77, 42.5, 43.72, 47.67, 51.62, 55.57, 59.52, 63.47, 67.42, 71.37, 75.32, 79.27, 83.22, 87.17, 91.12, 92.9, 95.07, 99.02],
                "labelExpr": "datum.value == 17.2 ? 'down 1' : datum.value == 42.5 ? 'up 1' : datum.value == 67.42 ? 'down 2' : datum.value == 92.9 ? 'up 2' : ''",
                "labelAngle": 90, "offset": -61.2, "tickSize": 6, "labelFont": "Liberation Sans", "labelFontSize": 14, "labelPadding": 3, "labelOverlap": false, "labelFlush": false}},
            "y": {"field": "lo", "type": "quantitative", "scale": {"domain": [-21.3, 109.2], "nice": false, "zero": false}, "title": null,
              "axis": {"values": [0, 25, 50, 75, 100], "offset": -92, "tickSize": 9, "labelFont": "DejaVu Sans", "labelFontSize": 22, "labelPadding": 16}},
            "y2": {"field": "hi"}
          }
        },
        {
          "data": {"name": "p3"},
          "mark": {"type": "line", "color": "#ffffff", "strokeWidth": 2.2},
          "encoding": {
            "x": {"field": "x", "type": "quantitative", "scale": {"domain": [-6.276, 101.23], "nice": false, "zero": false}, "title": null},
            "y": {"field": "m", "type": "quantitative", "scale": {"domain": [-21.3, 109.2], "nice": false, "zero": false}, "title": null}
          }
        },
        {
          "data": {"name": "markers"},
          "mark": {"type": "rule", "strokeWidth": 3},
          "encoding": {
            "x": {"field": "pos", "type": "quantitative", "scale": {"domain": [-6.276, 101.23], "nice": false, "zero": false}, "title": null},
            "y": {"datum": 110.95, "type": "quantitative", "scale": {"domain": [-21.3, 109.2], "nice": false, "zero": false}, "title": null},
            "y2": {"datum": -23.05},
            "color": {"field": "kind", "type": "nominal", "scale": {"domain": ["angle", "up"], "range": ["#ff0000", "#ffc000"]}, "legend": null}
          }
        }
      ]
    },
    {
      "width": 308, "height": 78,
      "view": {"fill": null, "stroke": null},
      "data": {"values": [{"a": 0.64, "b": 0.98, "c": 1, "d": 0}]},
      "mark": {"type": "rect", "fill": {"gradient": "linear", "x1": 0, "y1": 0, "x2": 1, "y2": 0, "stops": [{"offset": 0, "color": "#b6d3e2"}, {"offset": 0.5, "color": "#a9cadb"}, {"offset": 1, "color": "#b9d5e3"}]}},
      "encoding": {
        "x": {"field": "a", "type": "quantitative", "scale": {"domain": [0, 1], "nice": false}, "axis": null},
        "x2": {"field": "b"},
        "y": {"field": "c", "type": "quantitative", "scale": {"domain": [0, 1], "nice": false}, "axis": null},
        "y2": {"field": "d"}
      }
    },
    {
      "width": 1576, "height": 78,
      "view": {"fill": null, "stroke": null},
      "layer": [
        {
          "data": {"name": "markers"},
          "mark": {"type": "rule", "strokeWidth": 3},
          "encoding": {
            "x": {"field": "pos", "type": "quantitative", "scale": {"domain": [-6.276, 101.23], "nice": false, "zero": false}, "axis": null},
            "y": {"field": "level", "type": "quantitative", "scale": {"domain": [-2.235, 2.355], "nice": false, "zero": false}, "axis": null},
            "y2": {"datum": 2.355},
            "color": {"field": "kind", "type": "nominal", "scale": {"domain": ["angle", "up"], "range": ["#ff0000", "#ffc000"]}, "legend": null}
          }
        },
        {
          "data": {"name": "boxes"},
          "mark": {"type": "point", "filled": true, "size": 10404, "stroke": "#3b3b3b", "strokeWidth": 3, "opacity": 1},
          "encoding": {
            "x": {"field": "pos", "type": "quantitative", "scale": {"domain": [-6.276, 101.23], "nice": false, "zero": false}, "axis": null},
            "y": {"field": "level", "type": "quantitative", "scale": {"domain": [-2.235, 2.355], "nice": false, "zero": false}, "axis": null},
            "shape": {"condition": {"test": "datum.label == '90°'", "value": "M-0.765,-0.657L0.765,-0.657L0.765,0.657L-0.765,0.657Z"}, "value": "M-1,-0.657L1,-0.657L1,0.657L-1,0.657Z"},
            "color": {"field": "kind", "type": "nominal", "scale": {"domain": ["angle", "up"], "range": ["#ff0000", "#ffc000"]}, "legend": null}
          }
        },
        {
          "data": {"name": "boxes"},
          "mark": {"type": "text", "font": "Lato", "fontSize": 28, "align": "center", "baseline": "middle", "dy": 3},
          "encoding": {
            "x": {"field": "pos", "type": "quantitative", "scale": {"domain": [-6.276, 101.23], "nice": false, "zero": false}, "axis": null},
            "y": {"field": "level", "type": "quantitative", "scale": {"domain": [-2.235, 2.355], "nice": false, "zero": false}, "axis": null},
            "text": {"field": "label"},
            "color": {"condition": {"test": "datum.kind == 'up'", "value": "#111111"}, "value": "#ffffff"}
          }
        }
      ]
    }
  ]
}
